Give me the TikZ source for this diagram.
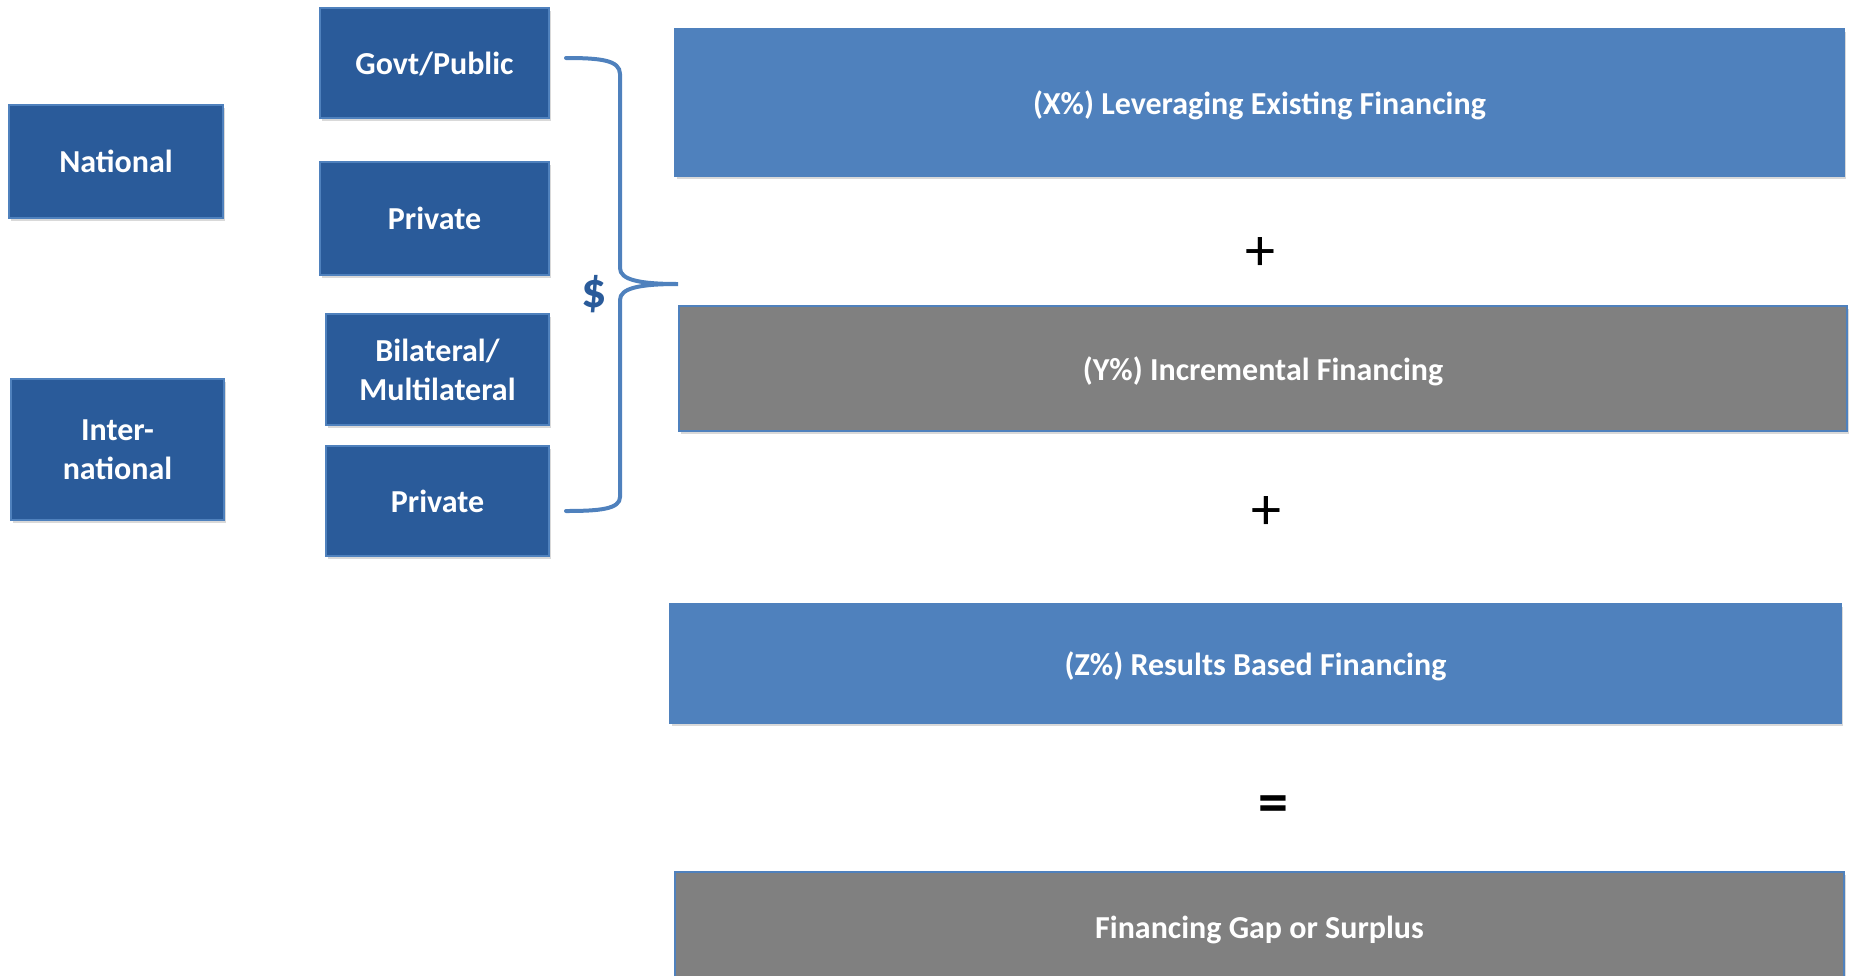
\documentclass[tikz,border=0pt]{standalone}
\usepackage{fontspec}
\setmainfont{Carlito}
\usetikzlibrary{shadows}
\definecolor{darkblue}{RGB}{42,91,154}
\definecolor{lightblue}{RGB}{79,129,189}
\definecolor{midgray}{RGB}{128,128,128}
\tikzset{
	box/.style={draw=lightblue, line width=1.5pt, text=white, align=center, inner sep=0pt,
		font=\fontsize{32}{39}\selectfont\bfseries, text depth=0pt,
		drop shadow={shadow xshift=2pt, shadow yshift=-3pt, opacity=0.3}},
	srcbox/.style={box, fill=darkblue},
	bluebar/.style={box, fill=lightblue},
	graybar/.style={box, fill=midgray},
	opsign/.style={font=\fontsize{60}{60}\selectfont},
	brace/.style={draw=lightblue, line width=4pt, line cap=round},
}

\begin{document}
\begin{tikzpicture}[x=1pt, y=-1pt]
		%%%%% START %%%%%
		\clip (0, 0) rectangle (1850, 975);
		
		% sources
		\node[srcbox, minimum width=214pt, minimum height=113pt] (national) at (116, 161.5) {National};
		\node[srcbox, minimum width=213pt, minimum height=141pt] (intl) at (117.5, 449.5) {Inter-\\national};
		
		\node[srcbox, minimum width=229pt, minimum height=110pt] (govt) at (434.5, 63) {Govt/Public};
		\node[srcbox, minimum width=229pt, minimum height=113pt] (natpriv) at (434.5, 218.5) {Private};
		\node[srcbox, minimum width=223pt, minimum height=111pt] (bilat) at (437.5, 369.5) {Bilateral/\\Multilateral};
		\node[srcbox, minimum width=223pt, minimum height=110pt] (intpriv) at (437.5, 501) {Private};
		
		% brace
		\draw[brace] (566, 58) .. controls (600, 58) and (620, 60) .. (620, 74) -- (620, 268)
			.. controls (620, 280) and (640, 284) .. (678, 284)
			.. controls (640, 284) and (620, 288) .. (620, 300) -- (620, 497)
			.. controls (620, 509) and (600, 511) .. (566, 511);
		\node[font=\fontsize{50}{50}\selectfont\bfseries, text=darkblue] (dollar) at (594, 294) {\$};
		
		% financing
		\node[bluebar, minimum width=1169pt, minimum height=147pt] (xfin) at (1259.5, 102.5) {(X\%) Leveraging Existing Financing};
		\node[opsign] (plusa) at (1260, 254) {+};
		\node[graybar, minimum width=1168pt, minimum height=125pt] (yfin) at (1263, 368.5) {(Y\%) Incremental Financing};
		\node[opsign] (plusb) at (1266, 513) {+};
		\node[bluebar, minimum width=1171pt, minimum height=119pt] (zfin) at (1255.5, 663.5) {(Z\%) Results Based Financing};
		\node[opsign, font=\fontsize{60}{60}\selectfont\bfseries] (equals) at (1273, 809) {=};
		\node[graybar, minimum width=1169pt, minimum height=110pt] (gap) at (1259.5, 927) {Financing Gap or Surplus};
		
		%%%%% END %%%%%
	\end{tikzpicture}
\end{document}
